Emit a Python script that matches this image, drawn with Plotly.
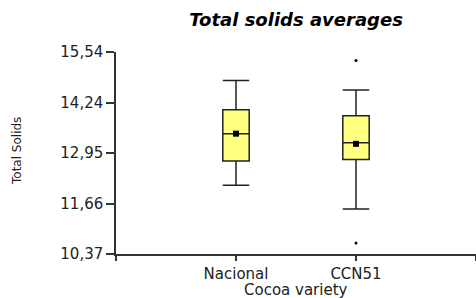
import plotly.graph_objects as go

categories = ["Nacional", "CCN51"]
positions = [1, 2]
lower_whisker = [12.13, 11.52]
q1 = [12.75, 12.79]
median = [13.45, 13.22]
q3 = [14.06, 13.91]
upper_whisker = [14.81, 14.57]
means = [13.45, 13.19]
outlier_x = [2, 2]
outlier_y = [15.32, 10.65]
ytick_vals = [10.37, 11.66, 12.95, 14.24, 15.54]
ytick_text = ["10,37", "11,66", "12,95", "14,24", "15,54"]

FONT = "DejaVu Sans"
DARK = "#222222"

fig = go.Figure()
for i, cat in enumerate(categories):
    fig.add_trace(go.Box(
        x=[positions[i]], q1=[q1[i]], median=[median[i]], q3=[q3[i]],
        lowerfence=[lower_whisker[i]], upperfence=[upper_whisker[i]],
        name=cat, width=0.22, whiskerwidth=1,
        fillcolor="#FFFF80", line=dict(color=DARK, width=1.5),
        boxpoints=False, showlegend=False, hoverinfo="skip",
    ))

fig.add_trace(go.Scatter(
    x=positions, y=means, mode="markers",
    marker=dict(symbol="square", size=6, color="black"),
    showlegend=False, hoverinfo="skip",
))
fig.add_trace(go.Scatter(
    x=outlier_x, y=outlier_y, mode="markers",
    marker=dict(symbol="circle", size=3, color="black"),
    showlegend=False, hoverinfo="skip",
))

W, H = 476, 298
fig.update_layout(
    width=W, height=H,
    margin=dict(l=116, r=0, t=52, b=44),
    plot_bgcolor="white", paper_bgcolor="white",
    font=dict(family=FONT, color=DARK),
    title=dict(text="<b><i>Total solids averages</i></b>",
               x=0.5, xref="paper", xanchor="center",
               y=1 - 20 / H, yref="container", yanchor="middle",
               font=dict(size=18, family=FONT, color="black")),
    xaxis=dict(range=[0, 3], tickvals=[0, 1, 2, 3],
               ticktext=[""] + categories + [""],
               showgrid=False, zeroline=False, automargin=False,
               showline=True, linecolor="#333333", linewidth=1.5,
               ticks="outside", ticklen=5, tickcolor="#333333", tickwidth=1.5,
               tickfont=dict(size=15, family=FONT, color=DARK)),
    yaxis=dict(range=[10.37, 15.54], tickvals=ytick_vals, ticktext=ytick_text,
               showgrid=False, zeroline=False, automargin=False,
               showline=True, linecolor="#333333", linewidth=1.5,
               ticks="outside", ticklen=8, tickcolor="#333333", tickwidth=1.5,
               tickfont=dict(size=15, family=FONT, color=DARK)),
    annotations=[
        dict(text="Cocoa variety", xref="paper", yref="paper",
             x=0.5, y=-(290 - 254) / 202, xanchor="center", yanchor="middle",
             showarrow=False, font=dict(size=15, family=FONT, color=DARK)),
        dict(text="Total Solids", xref="paper", yref="paper",
             x=-(116 - 17) / 360, y=(254 - 151) / 202, xanchor="center", yanchor="middle",
             textangle=-90, showarrow=False,
             font=dict(size=12, family=FONT, color=DARK)),
    ],
)

fig.write_html("out.html",
               config={"displayModeBar": False},
               post_script="document.body.style.margin='0';document.body.style.overflow='hidden';")
